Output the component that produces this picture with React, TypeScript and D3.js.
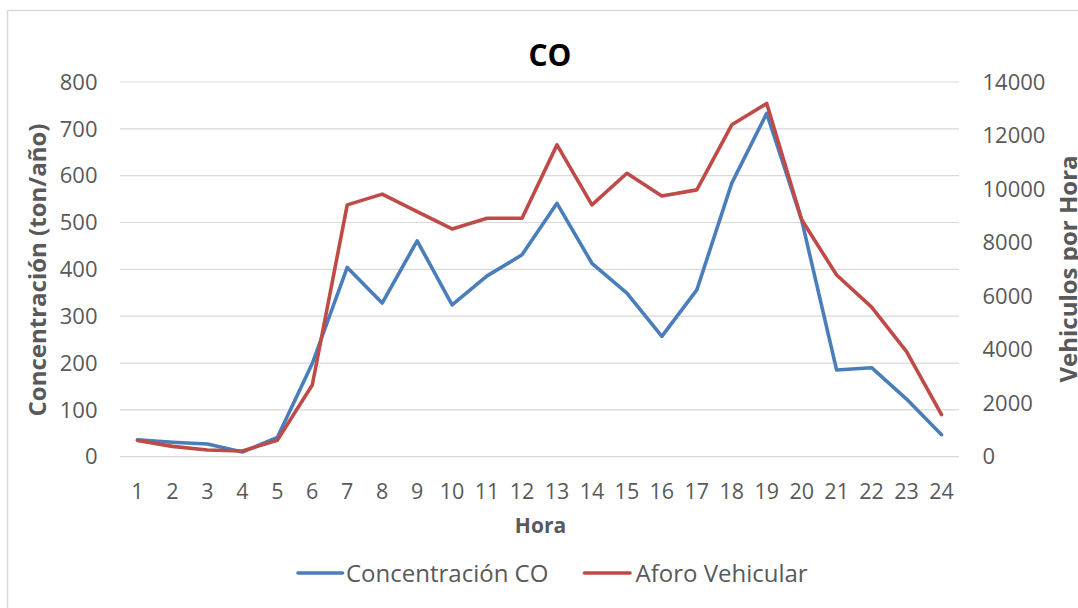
import React from "react";
import * as d3 from "d3";

const hours = ["1","2","3","4","5","6","7","8","9","10","11","12","13","14","15","16","17","18","19","20","21","22","23","24"];
const concentracion = [36, 31, 27, 10, 41, 199, 404, 328, 461, 324, 386, 431, 541, 413, 349, 257, 356, 584, 733, 505, 185, 190, 123, 47];
const aforo = [610, 385, 250, 213, 610, 2680, 9410, 9810, 9160, 8510, 8910, 8910, 11650, 9410, 10590, 9740, 9970, 12400, 13200, 8850, 6790, 5590, 3930, 1570];
const leftTicks = [0, 100, 200, 300, 400, 500, 600, 700, 800];
const rightTicks = [0, 2000, 4000, 6000, 8000, 10000, 12000, 14000];

const W = 1078, H = 608;
const left = 120, right = 959, top = 82, bottom = 456.7;
const FONT = "'Open Sans', sans-serif";
const GRAY = "#595959";
const BLUE = "#4A7EBB";
const RED = "#BE4B48";

export default function App() {
  const x = d3.scalePoint<string>().domain(hours).range([left, right]).padding(0.5);
  const yL = d3.scaleLinear().domain([0, 800]).range([bottom, top]);
  const yR = d3.scaleLinear().domain([0, 14000]).range([bottom, top]);
  const lineL = d3.line<number>().x((_, i) => x(hours[i])!).y((d) => yL(d));
  const lineR = d3.line<number>().x((_, i) => x(hours[i])!).y((d) => yR(d));

  return (
    <svg width={W} height={H} style={{ position: "absolute", left: 0, top: 0, background: "#fff" }} fontFamily={FONT}>
      <rect x={0} y={0} width={W} height={H} fill="#fff" />
      <rect x={7.5} y={10.5} width={1100} height={700} fill="#fff" stroke="#D9D9D9" strokeWidth={1.5} />
      {leftTicks.map((t) => (
        <line key={"g" + t} x1={left} x2={right} y1={yL(t)} y2={yL(t)} stroke="#D9D9D9" strokeWidth={1.2} />
      ))}
      {leftTicks.map((t) => (
        <text key={"l" + t} x={97.5} y={yL(t)} dy="0.35em" textAnchor="end" fontSize={22} fill={GRAY}>{t}</text>
      ))}
      {rightTicks.map((t) => (
        <text key={"r" + t} x={982.5} y={yR(t)} dy="0.35em" textAnchor="start" fontSize={22} fill={GRAY}>{t}</text>
      ))}
      {hours.map((h) => (
        <text key={"x" + h} x={x(h)} y={499} textAnchor="middle" fontSize={21.5} fill={GRAY}>{h}</text>
      ))}
      <path d={lineL(concentracion)!} fill="none" stroke={BLUE} strokeWidth={3.6} strokeLinejoin="round" strokeLinecap="round" />
      <path d={lineR(aforo)!} fill="none" stroke={RED} strokeWidth={3.6} strokeLinejoin="round" strokeLinecap="round" />
      <text x={550} y={66} textAnchor="middle" fontSize={30} fontWeight="bold" fill="#000">CO</text>
      <text transform="translate(46,270) rotate(-90)" textAnchor="middle" fontSize={24} fontWeight="bold" fill={GRAY}>Concentración (ton/año)</text>
      <text transform="translate(1077,269) rotate(-90)" textAnchor="middle" fontSize={24} fontWeight="bold" fill={GRAY}>Vehiculos por Hora</text>
      <text x={540.5} y={533} textAnchor="middle" fontSize={21} fontWeight="bold" fill={GRAY}>Hora</text>
      <line x1={298} x2={342.5} y1={573} y2={573} stroke={BLUE} strokeWidth={3.6} strokeLinecap="round" />
      <text x={346} y={582} fontSize={24} fill={GRAY}>Concentración CO</text>
      <line x1={584.5} x2={630} y1={573} y2={573} stroke={RED} strokeWidth={3.6} strokeLinecap="round" />
      <text x={635.5} y={582} fontSize={24} fill={GRAY}>Aforo Vehicular</text>
    </svg>
  );
}
